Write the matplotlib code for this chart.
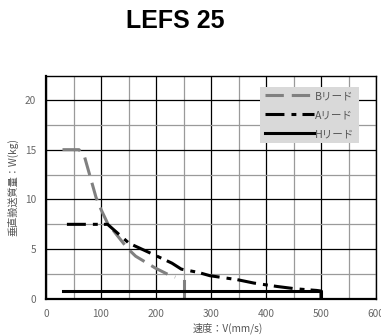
import matplotlib
matplotlib.use("Agg")
import matplotlib.pyplot as plt
from matplotlib.ticker import MultipleLocator

plt.rcParams['font.family'] = ['Noto Sans CJK JP', 'DejaVu Sans']

# B lead (gray dashed)
b_speed = [30, 60, 70, 91, 100, 112, 148, 163, 199, 228, 235]
b_load = [15, 15, 14.3, 10.2, 9.0, 7.6, 5.1, 4.3, 3.1, 2.3, 2.2]
b_end_speed = [250, 250]
b_end_load = [0, 1.8]

# A lead (black dash-dot)
a_speed = [38, 100, 112, 151, 202, 229, 246, 277, 298, 348, 378, 420, 453, 492, 500, 500]
a_load = [7.5, 7.5, 7.5, 5.6, 4.3, 3.6, 3.0, 2.67, 2.34, 1.94, 1.6, 1.26, 1.03, 0.86, 0.8, 0]

# H lead (solid)
h_speed = [30, 500, 500]
h_load = [0.8, 0.8, 0]

labels = ['Bリード', 'Aリード', 'Hリード']

fig = plt.figure(figsize=(3.81, 3.35), dpi=100)
ax = fig.add_axes([46 / 381, 1 - 299 / 335, 330 / 381, 223 / 335])

ax.plot(b_speed, b_load, color='#808080', lw=2.2, dashes=(6, 2.6), label=labels[0])
ax.plot(b_end_speed, b_end_load, color='#808080', lw=2.2)
ax.plot(a_speed, a_load, color='black', lw=2.2, dashes=(6.2, 2.3, 1.6, 2.0), label=labels[1])
ax.plot(h_speed, h_load, color='black', lw=2.2, label=labels[2])

ax.set_xlim(0, 600)
ax.set_ylim(0, 22.4)
ax.xaxis.set_major_locator(MultipleLocator(100))
ax.xaxis.set_minor_locator(MultipleLocator(50))
ax.yaxis.set_major_locator(MultipleLocator(5))
ax.yaxis.set_minor_locator(MultipleLocator(2.5))
ax.grid(which='major', color='black', lw=0.9)
ax.grid(which='minor', color='#9a9a9a', lw=0.9)
ax.set_axisbelow(True)
ax.tick_params(which='both', length=0, labelsize=7.3, labelcolor='#666666', pad=7)
for s in ax.spines.values():
    s.set_linewidth(1.0)
ax.spines['left'].set_linewidth(1.6)
ax.spines['bottom'].set_linewidth(1.6)

ax.set_xlabel('速度：V(mm/s)', fontsize=7.3, color='#555555')
ax.xaxis.set_label_coords((228 - 46) / 330, -23 / 223)
ax.set_ylabel('垂直搬送質量：W(kg)', fontsize=7.3, color='#555555')
ax.yaxis.set_label_coords(-28 / 330, 0.5)

leg = ax.legend(loc='upper right', bbox_to_anchor=(0.948, 0.951), fontsize=7.6,
                frameon=True, fancybox=False, handlelength=4.7, handletextpad=0.1,
                borderpad=0.4, labelspacing=0.85, borderaxespad=0)
leg.get_frame().set_facecolor('#d9d9d9')
leg.get_frame().set_edgecolor('none')
leg.get_frame().set_alpha(1)
for t in leg.get_texts():
    t.set_color('#555555')

fig.text(175 / 381, 1 - 21 / 335, 'LEFS 25', ha='center', va='center',
         fontsize=18, fontweight='bold', family='Liberation Sans')

fig.savefig('out.png', dpi=100)
